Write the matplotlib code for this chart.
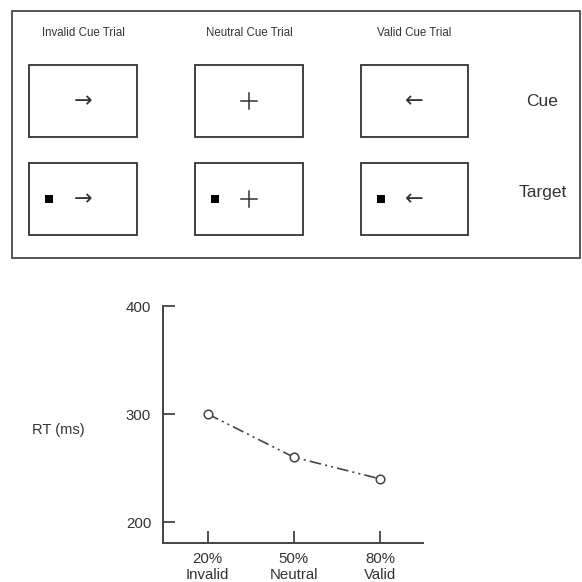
import matplotlib
matplotlib.use("Agg")
import matplotlib.pyplot as plt
from matplotlib.patches import Rectangle

plt.rcParams['font.family'] = ['Liberation Sans', 'DejaVu Sans']

# ---- data ----
conditions = ["20%\nInvalid", "50%\nNeutral", "80%\nValid"]
rt_ms = [300, 260, 240]
y_ticks = [200, 300, 400]
trial_titles = ["Invalid Cue Trial", "Neutral Cue Trial", "Valid Cue Trial"]
cue_symbols = ["\u2192", "+", "\u2190"]
row_labels = ["Cue", "Target"]

W = H = 582
fig = plt.figure(figsize=(W / 100, H / 100), dpi=100)
fig.patch.set_facecolor('white')

# ---- schematic panel (pixel coordinates overlay) ----
ov = fig.add_axes([0, 0, 1, 1], zorder=0)
ov.set_xlim(0, W)
ov.set_ylim(H, 0)
ov.axis('off')

dark = '#333333'
ov.add_patch(Rectangle((12, 11), 568, 247, fill=False, ec='#555555', lw=1.4))

col_x = [(29, 137), (195, 303), (361, 468)]
row_y = [(65, 137), (163, 235)]
for ci, (x0, x1) in enumerate(col_x):
    cx = (x0 + x1) / 2
    ov.text(cx, 33, trial_titles[ci], ha='center', va='center', fontsize=8.3, color=dark)
    for ri, (y0, y1) in enumerate(row_y):
        ov.add_patch(Rectangle((x0, y0), x1 - x0, y1 - y0, fill=False, ec=dark, lw=1.3))
        cy = (y0 + y1) / 2
        sym = cue_symbols[ci]
        if sym == "+":
            ov.plot([cx - 8, cx + 8], [cy, cy], color=dark, lw=1.1)
            ov.plot([cx, cx], [cy - 8, cy + 8], color=dark, lw=1.1)
        else:
            ov.text(cx, cy, sym, ha='center', va='center', fontsize=16,
                    color=dark, family=['DejaVu Sans'])
        if ri == 1:
            ov.add_patch(Rectangle((x0 + 16, cy - 4), 8, 8, color='black', lw=0))

ov.text(542, 102, row_labels[0], ha='center', va='center', fontsize=12.5, color=dark)
ov.text(543, 193, row_labels[1], ha='center', va='center', fontsize=12.5, color=dark)

# ---- RT chart ----
ax = fig.add_axes([163 / W, 1 - 543 / H, (423 - 163) / W, (543 - 306) / H], zorder=1)
ax.patch.set_alpha(0)
x = list(range(len(conditions)))
ax.plot(x, rt_ms, color='#444444', lw=1.2, dashes=(7, 2.5, 1.2, 2.5, 1.2, 2.5),
        marker='o', markersize=6.2, markerfacecolor='white',
        markeredgecolor='#444444', markeredgewidth=1.1)
ax.set_xlim(-0.52, 2.5)
ax.set_ylim(180.6, 400)
ax.set_xticks(x)
ax.set_xticklabels(conditions)
ax.set_yticks(y_ticks)
for s in ['top', 'right']:
    ax.spines[s].set_visible(False)
for s in ['left', 'bottom']:
    ax.spines[s].set_color('#444444')
    ax.spines[s].set_linewidth(1.4)
ax.tick_params(axis='both', direction='in', length=8.6, width=1.3, color='#444444',
               labelsize=10.8, labelcolor=dark)
ax.tick_params(axis='x', pad=6.5)
ax.tick_params(axis='y', pad=8.5)
ax.set_ylabel('RT (ms)', rotation=0, ha='center', va='center', fontsize=10.5, color=dark)
ax.yaxis.set_label_coords((58 - 163) / 260, (543 - 430) / 237)

fig.savefig('out.png', dpi=100, facecolor='white')
